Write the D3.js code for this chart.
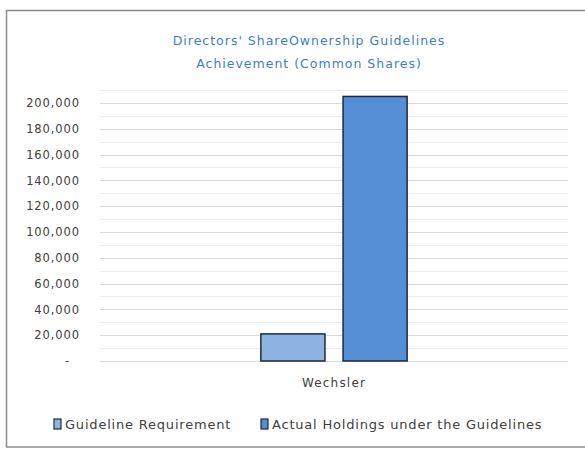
<!DOCTYPE html>
<html>
<head>
<meta charset="utf-8">
<script src="https://cdn.jsdelivr.net/npm/d3@7"></script>
<style>
  body { margin: 0; background: #fff; }
  text { font-family: "DejaVu Sans", Verdana, sans-serif; }
</style>
</head>
<body>
<div id="container"></div>
<script>
// chart data
var categories = ["Wechsler"];
var seriesNames = ["Guideline Requirement", "Actual Holdings under the Guidelines"];
var guidelineValues = [21000];
var actualValues = [205000];
var yTicks = [0, 20000, 40000, 60000, 80000, 100000, 120000, 140000, 160000, 180000, 200000];
var titleLines = ["Directors' ShareOwnership Guidelines", "Achievement (Common Shares)"];

var width = 585;
var height = 450;
var colors = ["#8db4e2", "#558ed5"];

var svg = d3.select("div#container").append("svg")
    .attr("width", width)
    .attr("height", height);

// chart frame
svg.append("rect")
    .attr("x", 6.5)
    .attr("y", 10.5)
    .attr("width", 600)
    .attr("height", 436.5)
    .style("fill", "#fff")
    .style("stroke", "#8c8c8c")
    .style("stroke-width", 1.5);

//----------------------------SCALES-----------------------------//
var plotLeft = 100, plotRight = 568, plotTop = 90, plotBottom = 361;

var yScale = d3.scaleLinear()
    .domain([0, 210000])
    .range([plotBottom, plotTop]);

var x0 = d3.scaleBand()
    .domain(categories)
    .range([plotLeft, plotRight])
    .paddingOuter(1.1)
    .paddingInner(0);

var x1 = d3.scaleBand()
    .domain(seriesNames)
    .range([0, x0.bandwidth()])
    .paddingInner(0.22);

//----------------------------GRID------------------------------//
var minorTicks = d3.range(10000, 210001, 20000);

svg.append("g").selectAll("line.minor")
    .data(minorTicks)
    .enter().append("line")
    .attr("x1", plotLeft)
    .attr("x2", plotRight)
    .attr("y1", d => Math.round(yScale(d)) + 0.5)
    .attr("y2", d => Math.round(yScale(d)) + 0.5)
    .style("stroke", "#ececec");

svg.append("g").selectAll("line.major")
    .data(yTicks)
    .enter().append("line")
    .attr("x1", plotLeft)
    .attr("x2", plotRight)
    .attr("y1", d => Math.round(yScale(d)) + 0.5)
    .attr("y2", d => Math.round(yScale(d)) + 0.5)
    .style("stroke", "#d9d9d9");

//-----------------------------AXES------------------------------//
var yaxis = d3.axisLeft(yScale)
    .tickValues(yTicks)
    .tickSize(0)
    .tickPadding(20)
    .tickFormat(d => d === 0 ? "-" : d3.format(",")(d));

var yg = svg.append("g")
    .attr("transform", "translate(" + plotLeft + ",0)")
    .call(yaxis);
yg.select(".domain").remove();
yg.selectAll("text")
    .style("font-size", "11.5px")
    .style("letter-spacing", "0.9px")
    .style("fill", "#404040")
    .attr("dx", d => d === 0 ? -10 : 0);

var xaxis = d3.axisBottom(x0).tickSize(0).tickPadding(17);
var xg = svg.append("g")
    .attr("transform", "translate(0," + plotBottom + ")")
    .call(xaxis);
xg.select(".domain").remove();
xg.selectAll("text")
    .style("font-size", "12px")
    .style("letter-spacing", "1.2px")
    .style("fill", "#404040");

//----------------------------BARS------------------------------//
var rows = categories.map(function (c, i) {
    return { cat: c, values: [guidelineValues[i], actualValues[i]] };
});

var groups = svg.selectAll(".group")
    .data(rows)
    .enter().append("g")
    .attr("transform", d => "translate(" + x0(d.cat) + ",0)");

groups.selectAll("rect")
    .data(d => d.values.map((v, j) => ({ name: seriesNames[j], value: v, j: j })))
    .enter().append("rect")
    .attr("x", d => x1(d.name))
    .attr("y", d => yScale(d.value))
    .attr("width", x1.bandwidth())
    .attr("height", d => plotBottom - yScale(d.value))
    .style("fill", d => colors[d.j])
    .style("stroke", "#1f2a38")
    .style("stroke-width", 1.5);

//----------------------------TITLE------------------------------//
svg.selectAll(".title")
    .data(titleLines)
    .enter().append("text")
    .attr("x", 309)
    .attr("y", (d, i) => 45 + i * 23)
    .style("text-anchor", "middle")
    .style("font-size", "12.5px")
    .style("letter-spacing", "1px")
    .style("fill", "#3d7fc4")
    .text(d => d);

//----------------------------LEGEND------------------------------//
var legendX = [54, 261];
var legend = svg.selectAll(".legend")
    .data(seriesNames)
    .enter().append("g")
    .attr("transform", (d, i) => "translate(" + legendX[i] + ",429)");

legend.append("rect")
    .attr("x", 0)
    .attr("y", -10)
    .attr("width", 7)
    .attr("height", 10)
    .style("fill", (d, i) => colors[i])
    .style("stroke", "#1f2a38")
    .style("stroke-width", 1.2);

legend.append("text")
    .attr("x", 11)
    .attr("y", 0)
    .style("font-size", "13px")
    .style("letter-spacing", "0.8px")
    .style("fill", "#404040")
    .text(d => d);
</script>
</body>
</html>
